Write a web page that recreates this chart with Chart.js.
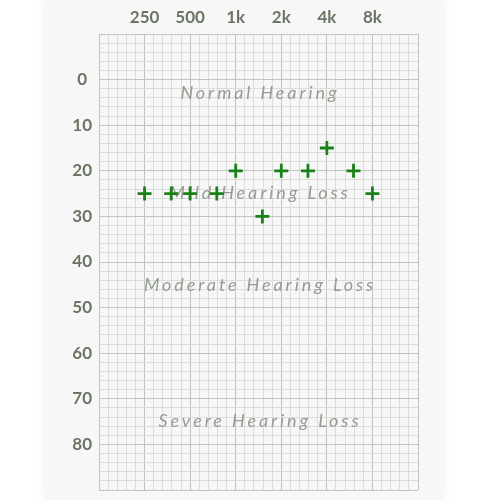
<!DOCTYPE html>
<html>
<head>
<meta charset="utf-8">
<script src="https://cdn.jsdelivr.net/npm/chart.js@4"></script>
<style>
  html, body { margin: 0; padding: 0; background: #ffffff; width: 500px; height: 500px; overflow: hidden; }
  #card { position: absolute; left: 45px; top: 0; width: 398px; height: 500px; background: #f7f7f7; box-shadow: 0 0 10px rgba(0,0,0,0.07); }
  #c { position: absolute; left: 0; top: 0; }
</style>
</head>
<body>
<div id="card"></div>
<canvas id="c" width="500" height="500"></canvas>
<script>
// Data
const frequencies = [250, 375, 500, 750, 1000, 1500, 2000, 3000, 4000, 6000, 8000];
const thresholds  = [25, 25, 25, 25, 20, 30, 20, 20, 15, 20, 25];
const xTickFreqs  = [250, 500, 1000, 2000, 4000, 8000];
const xTickLabels = ['250', '500', '1k', '2k', '4k', '8k'];
const yTickValues = [0, 10, 20, 30, 40, 50, 60, 70, 80];
const regionLabels = ['Normal Hearing', 'Mild Hearing Loss', 'Moderate Hearing Loss', 'Severe Hearing Loss'];
const regionLevels = [3, 25, 45, 75];

const X_MIN = 125, X_MAX = 16000, STEPS_PER_OCTAVE = 5;
const MAJOR = '#bfc4bc', MINOR = '#dcdcdc';
const TICK_COLOR = '#6b7563';

const regionPlugin = {
  id: 'regions',
  beforeDatasetsDraw(chart) {
    const { ctx, chartArea, scales } = chart;
    const cx = (chartArea.left + chartArea.right) / 2;
    ctx.save();
    ctx.font = 'italic 18px Lato';
    ctx.letterSpacing = '2.9px';
    ctx.fillStyle = '#959c91';
    ctx.textAlign = 'center';
    ctx.textBaseline = 'middle';
    regionLabels.forEach((t, i) => {
      ctx.fillText(t, cx + 1.5, scales.y.getPixelForValue(regionLevels[i]));
    });
    ctx.restore();
  }
};

new Chart(document.getElementById('c'), {
  type: 'scatter',
  data: {
    datasets: [{
      data: frequencies.map((f, i) => ({ x: f, y: thresholds[i] })),
      pointStyle: 'cross',
      pointRadius: 7,
      pointHoverRadius: 7,
      borderWidth: 2.8,
      borderColor: '#1a801a',
      backgroundColor: '#1a801a'
    }]
  },
  options: {
    responsive: false,
    animation: false,
    layout: { padding: { left: 0, top: 0, right: 82, bottom: 10 } },
    plugins: { legend: { display: false }, tooltip: { enabled: false } },
    scales: {
      x: {
        type: 'logarithmic',
        position: 'top',
        min: X_MIN,
        max: X_MAX,
        afterBuildTicks(scale) {
          const n = Math.round(Math.log2(X_MAX / X_MIN) * STEPS_PER_OCTAVE);
          const t = [];
          for (let i = 0; i <= n; i++) t.push({ value: X_MIN * Math.pow(2, i / STEPS_PER_OCTAVE) });
          scale.ticks = t;
        },
        afterFit(scale) {
          scale.height = 34;
          scale.paddingLeft = 0; scale.paddingRight = 0;
        },
        border: { display: false },
        grid: {
          drawTicks: false,
          color: (c) => (c.index % STEPS_PER_OCTAVE === 0 ? MAJOR : MINOR),
          lineWidth: 1
        },
        ticks: {
          autoSkip: false,
          maxRotation: 0,
          padding: 6,
          color: TICK_COLOR,
          font: { family: 'Lato', weight: 'bold', size: 17 },
          callback: function (value) {
            const k = xTickFreqs.findIndex(f => Math.abs(f - value) < 1);
            return k >= 0 ? xTickLabels[k] : '';
          }
        }
      },
      y: {
        reverse: true,
        min: -10,
        max: 90,
        afterFit(scale) {
          scale.width = 99;
          scale.paddingTop = 0; scale.paddingBottom = 0;
        },
        border: { display: false },
        grid: {
          drawTicks: false,
          color: (c) => (Math.round(c.tick.value) % 10 === 0 ? MAJOR : MINOR),
          lineWidth: 1
        },
        ticks: {
          stepSize: 2,
          autoSkip: false,
          padding: 7,
          crossAlign: 'center',
          color: TICK_COLOR,
          font: { family: 'Lato', weight: 'bold', size: 17 },
          callback: (v) => (yTickValues.includes(Math.round(v)) ? String(Math.round(v)) : '')
        }
      }
    }
  },
  plugins: [regionPlugin]
});
</script>
</body>
</html>
